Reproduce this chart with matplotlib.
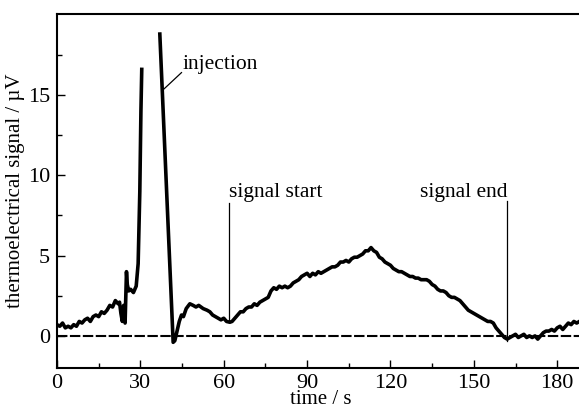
import numpy as np
import matplotlib
matplotlib.use("Agg")
import matplotlib.pyplot as plt
from matplotlib.ticker import MultipleLocator, FixedLocator

plt.rcParams['font.family'] = ['Liberation Serif', 'DejaVu Serif']

# trace before the first spike
t_pre = [0, 1, 2, 3, 4, 5, 6, 7, 8, 9, 10, 11, 12, 13, 14, 15, 16, 17, 18, 19,
         20, 21, 22, 22.5, 23, 23.5, 24, 24.5, 25, 25.3, 25.8, 26.5, 27.5, 28.5,
         29.2, 29.8, 30.2, 30.5]
v_pre = [0.7, 0.6, 0.8, 0.5, 0.6, 0.5, 0.7, 0.6, 0.9, 0.8, 1.0, 1.1, 0.9, 1.2,
         1.3, 1.2, 1.5, 1.4, 1.6, 1.9, 1.8, 2.2, 2.0, 2.1, 1.4, 0.9, 1.9, 0.8,
         4.0, 3.2, 2.8, 2.9, 2.7, 3.1, 4.5, 9.0, 14.0, 16.6]

# trace from the injection peak onwards
t_post = [37.0, 41.8, 42.4, 43.2, 44.0, 44.8, 45.5, 46.5, 47.8, 49, 50, 51, 52.6,
          54, 55, 56, 57, 58, 59, 60, 61, 62.2, 63, 64, 65, 66, 67, 68, 69, 70,
          71, 72, 73, 74, 75, 76, 77, 78, 79, 80, 81, 82, 83, 84, 85, 86, 87, 88,
          89, 90, 91, 92, 93, 94, 95, 96, 97, 98, 99, 100, 101, 102, 103, 104,
          105, 106, 107, 108, 109, 110, 111, 112, 113, 114, 115, 116, 117, 118,
          119, 120, 121, 122, 123, 124, 125, 126, 127, 128, 129, 130, 131, 132,
          133, 134, 135, 136, 137, 138, 139, 140, 141, 142, 143, 144, 145, 146,
          147, 148, 149, 150, 151, 152, 153, 154, 155, 156, 157, 158, 159, 160,
          161, 162, 163, 164, 165, 166, 167, 168, 169, 170, 171, 172, 173, 174,
          175, 176, 177, 178, 179, 180, 181, 182, 183, 184, 185, 186, 187, 188]
v_post = [18.8, -0.4, -0.3, 0.3, 0.9, 1.3, 1.2, 1.7, 2.0, 1.9, 1.8, 1.9, 1.7,
          1.6, 1.5, 1.3, 1.2, 1.1, 1.0, 1.1, 0.9, 0.85, 0.9, 1.1, 1.3, 1.5, 1.5,
          1.7, 1.8, 1.8, 2.0, 1.9, 2.1, 2.2, 2.3, 2.4, 2.8, 3.0, 2.9, 3.1, 3.0,
          3.1, 3.0, 3.1, 3.3, 3.4, 3.5, 3.7, 3.8, 3.9, 3.7, 3.9, 3.8, 4.0, 3.9,
          4.0, 4.1, 4.2, 4.3, 4.3, 4.4, 4.6, 4.6, 4.7, 4.6, 4.8, 4.9, 4.9, 5.0,
          5.1, 5.3, 5.3, 5.5, 5.3, 5.2, 4.9, 4.8, 4.6, 4.5, 4.4, 4.2, 4.1, 4.0,
          4.0, 3.9, 3.8, 3.7, 3.7, 3.6, 3.6, 3.5, 3.5, 3.5, 3.4, 3.2, 3.1, 2.9,
          2.8, 2.8, 2.7, 2.5, 2.4, 2.4, 2.3, 2.2, 2.0, 1.8, 1.6, 1.5, 1.4, 1.3,
          1.2, 1.1, 1.0, 0.9, 0.9, 0.8, 0.5, 0.3, 0.1, -0.1, -0.2, -0.1, 0.0,
          0.1, -0.1, 0.0, 0.1, -0.1, 0.0, -0.1, 0.0, -0.2, 0.0, 0.2, 0.3, 0.3,
          0.4, 0.3, 0.5, 0.6, 0.4, 0.6, 0.8, 0.7, 0.9, 0.8, 0.9]

# annotation markers
t_start = 61.8
t_end = 162.0

fig = plt.figure(figsize=(5.79, 4.09), dpi=100)
ax = fig.add_axes([57/579, 41/409, 528/579, 354/409])

ax.axhline(0, color='black', lw=1.5, ls=(0, (5, 1.2)), zorder=1)
ax.plot(t_pre, v_pre, color='black', lw=2.6, zorder=2)
ax.plot(t_post, v_post, color='black', lw=2.6, zorder=2)

# leader lines
ax.plot([38.0, 44.8], [15.3, 16.4], color='black', lw=0.9)
ax.plot([t_start, t_start], [0.9, 8.3], color='black', lw=0.9)
ax.plot([t_end, t_end], [-0.3, 8.4], color='black', lw=0.9)

ax.text(45.0, 16.9, 'injection', fontsize=15.5, va='center', ha='left')
ax.text(61.9, 8.95, 'signal start', fontsize=15.5, va='center', ha='left')
ax.text(130.6, 8.95, 'signal end', fontsize=15.5, va='center', ha='left')

ax.set_xlim(0, 190)
ax.set_ylim(-2, 20.05)
ax.xaxis.set_major_locator(MultipleLocator(30))
ax.xaxis.set_minor_locator(MultipleLocator(15))
ax.yaxis.set_major_locator(FixedLocator([0, 5, 10, 15]))
ax.yaxis.set_minor_locator(FixedLocator([2.5, 7.5, 12.5, 17.5]))
ax.tick_params(which='both', direction='in', top=False, right=False, labelsize=16)
ax.tick_params(which='major', length=6, width=1)
ax.tick_params(which='minor', length=3.5, width=1)
ax.tick_params(axis='x', pad=4)
ax.tick_params(axis='y', pad=5)
for s in ax.spines.values():
    s.set_linewidth(1.5)
ax.spines['right'].set_visible(False)

ax.set_xlabel('time / s', fontsize=15, labelpad=-1.5)
ax.set_ylabel('thermoelectrical signal / µV', fontsize=15, labelpad=2)

fig.savefig('out.png', dpi=100)
